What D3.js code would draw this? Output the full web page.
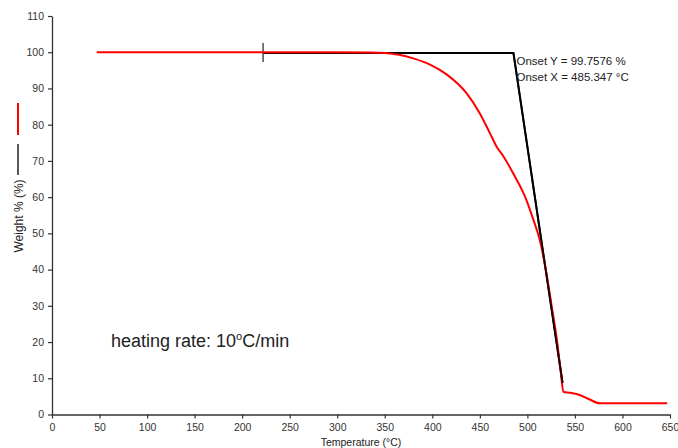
<!DOCTYPE html>
<html><head><meta charset="utf-8">
<script src="https://cdn.jsdelivr.net/npm/d3@7"></script>
<style>
body{margin:0;background:#fff;}
svg{display:block;font-family:"Liberation Sans",Arial,sans-serif;}
</style></head>
<body><svg id="c" width="678" height="448"></svg>
<script>
// ---- data ----
const xTicks = [0,50,100,150,200,250,300,350,400,450,500,550,600,650];
const yTicks = [0,10,20,30,40,50,60,70,80,90,100,110];
const redTemps   = [47,100,200,300,335,350,365,380,397.6,415,436,450,460.7,467.7,474.7,485,499,506,513,520,525.6,531,535,537.8,545,555,565,576,600,625,647];
const redWeights = [100,100,100,100,99.95,99.8,99.3,98.3,96.6,93.9,88.7,83.1,77.6,73.9,71.3,66.6,59.2,54,48.2,39,29.8,20.6,12,6.3,6.0,5.4,4.2,3.1,3.1,3.1,3.1];
const blackTemps   = [222,485.347,537];
const blackWeights = [99.7576,99.7576,8.7];
const onsetLabels = ["Onset Y = 99.7576 %","Onset X = 485.347 °C"];
const xTitle = "Temperature (°C)";
const yTitle = "Weight % (%)";

const svg = d3.select("#c");
const x = d3.scaleLinear().domain([0,650]).range([52,670]);
const y = d3.scaleLinear().domain([0,110]).range([414.5,16]);

// axes
const xAxis = svg.append("g").attr("transform","translate(0,414.5)")
  .call(d3.axisBottom(x).tickValues(xTicks).tickSize(4).tickSizeOuter(0).tickPadding(5));
const yAxis = svg.append("g").attr("transform","translate(52,0)")
  .call(d3.axisLeft(y).tickValues(yTicks).tickSize(4).tickSizeOuter(0).tickPadding(4));
[xAxis,yAxis].forEach(a=>{
  a.select(".domain").attr("stroke","#333").attr("stroke-width",1.3);
  a.selectAll(".tick line").attr("stroke","#333").attr("stroke-width",1.2);
  a.selectAll(".tick text").attr("fill","#333").style("font-size","10.5px");
});

const line = d3.line().x(d=>x(d[0])).y(d=>y(d[1]));

// black onset construction
const blackPts = blackTemps.map((t,i)=>[t,blackWeights[i]]);
svg.append("path").attr("d",line(blackPts)).attr("fill","none")
  .attr("stroke","#000").attr("stroke-width",2);
svg.append("line")
  .attr("x1",x(blackTemps[0])).attr("x2",x(blackTemps[0]))
  .attr("y1",y(blackWeights[0])-10).attr("y2",y(blackWeights[0])+9)
  .attr("stroke","#333").attr("stroke-width",1.3);

// red TGA curve
const redPts = redTemps.map((t,i)=>[t,redWeights[i]]);
svg.append("path").attr("d",d3.line().x(d=>x(d[0])).y(d=>y(d[1])).curve(d3.curveMonotoneX)(redPts)).attr("fill","none")
  .attr("stroke","#f00").attr("stroke-width",2);

// redraw steep black part on top
svg.append("path").attr("d",line(blackPts.slice(1)))
  .attr("fill","none").attr("stroke","#000").attr("stroke-width",1.8).attr("opacity",0.85);

// onset annotation
svg.append("g").selectAll("text").data(onsetLabels).join("text")
  .attr("x",x(blackTemps[1])+3).attr("y",(d,i)=>65+i*16)
  .attr("fill","#222").style("font-size","11.5px").text(d=>d);

// heating rate text
const ht = svg.append("text").attr("x",111).attr("y",347).attr("fill","#222").style("font-size","18px");
ht.append("tspan").text("heating rate: 10");
ht.append("tspan").attr("dy",-7).style("font-size","11px").text("o");
ht.append("tspan").attr("dy",7).text("C/min");

// axis titles
svg.append("text").attr("x",361).attr("y",446).attr("text-anchor","middle")
  .attr("fill","#222").style("font-size","10.5px").text(xTitle);
svg.append("text").attr("transform","translate(23,216) rotate(-90)").attr("text-anchor","middle")
  .attr("fill","#222").style("font-size","12px").text(yTitle);
// legend marks beside y-title
svg.append("line").attr("x1",18).attr("x2",18).attr("y1",103).attr("y2",135)
  .attr("stroke","#f00").attr("stroke-width",2);
svg.append("line").attr("x1",18).attr("x2",18).attr("y1",144).attr("y2",175)
  .attr("stroke","#000").attr("stroke-width",1.3);
</script></body></html>
